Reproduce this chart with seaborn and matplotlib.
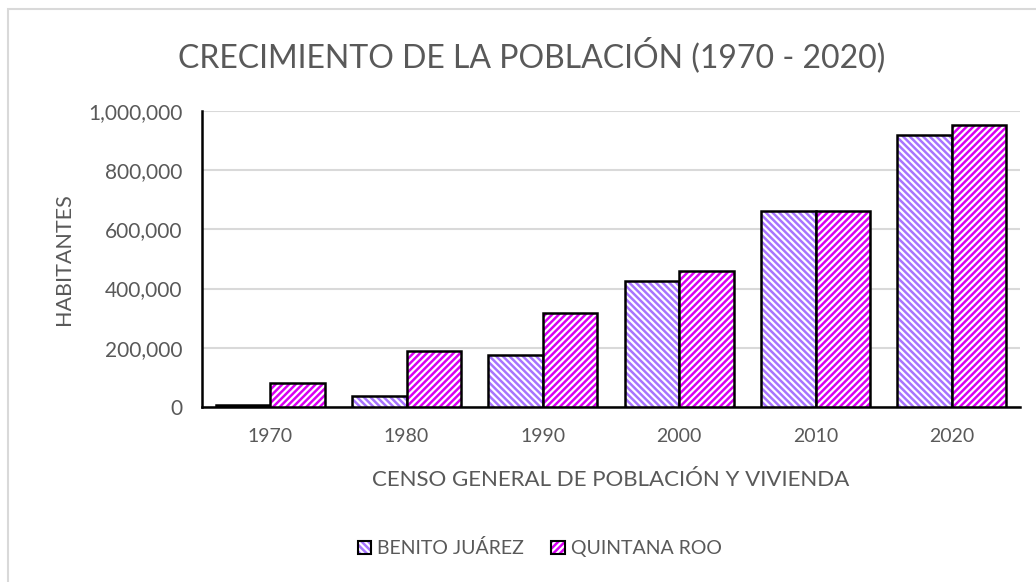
import pandas as pd
import matplotlib
matplotlib.use("Agg")
import matplotlib.pyplot as plt
import seaborn as sns
from matplotlib.patches import Patch, Rectangle
from matplotlib.colors import to_rgba
from matplotlib.ticker import FuncFormatter

# Data
years = ["1970", "1980", "1990", "2000", "2010", "2020"]
benito_juarez = [8000, 37000, 177000, 425000, 661000, 918000]
quintana_roo = [82000, 189000, 319000, 458000, 661000, 952000]
series_names = ["BENITO JUÁREZ", "QUINTANA ROO"]
hatch_colors = ["#A774FF", "#D900F2"]
hatch_styles = ["\\" * 5, "/" * 5]

df = pd.DataFrame({
    "Censo": years * 2,
    "Habitantes": benito_juarez + quintana_roo,
    "Serie": [series_names[0]] * len(years) + [series_names[1]] * len(years),
})

sns.set_style("white")
plt.rcParams["font.family"] = ["Lato", "DejaVu Sans"]
plt.rcParams["hatch.linewidth"] = 1.8
text_gray = "#595959"

fig = plt.figure(figsize=(10.36, 5.82), dpi=100)
ax = fig.add_axes([0.195, 0.3007, 0.7896, 0.5086])

sns.barplot(data=df, x="Censo", y="Habitantes", hue="Serie", hue_order=series_names,
            palette=["white", "white"], edgecolor="black", linewidth=1.8,
            legend=False, ax=ax, zorder=3)

# hatch each series with its own colour (hatch colour follows edgecolor otherwise)
n = len(years)
for i, p in enumerate(ax.patches):
    s = i // n
    p.set_hatch(hatch_styles[s])
    p._hatch_color = to_rgba(hatch_colors[s])

ax.set_ylim(0, 1000000)
ax.set_yticks(range(0, 1000001, 200000))
ax.yaxis.set_major_formatter(FuncFormatter(lambda v, pos: f"{int(v):,}"))
ax.grid(axis="y", color="#D9D9D9", linewidth=1.5, zorder=0)
ax.set_axisbelow(True)
for side in ["top", "right"]:
    ax.spines[side].set_visible(False)
for side in ["left", "bottom"]:
    ax.spines[side].set_color("black")
    ax.spines[side].set_linewidth(1.8)
ax.tick_params(axis="y", length=0, labelsize=15, colors=text_gray, pad=14)
ax.tick_params(axis="x", length=0, labelsize=14, colors=text_gray, pad=15)

ax.set_ylabel("HABITANTES", fontsize=15.5, color=text_gray)
ax.yaxis.set_label_coords(-0.156, 0.5)
ax.set_xlabel("CENSO GENERAL DE POBLACIÓN Y VIVIENDA", fontsize=16, color=text_gray, labelpad=18)

fig.text(0.513, 0.905, "CRECIMIENTO DE LA POBLACIÓN (1970 - 2020)", ha="center", va="center",
         fontsize=23, color=text_gray)

handles = []
for s in range(2):
    h = Patch(facecolor="white", edgecolor="black", linewidth=1.5, hatch=hatch_styles[s])
    h._hatch_color = to_rgba(hatch_colors[s])
    handles.append(h)
leg = fig.legend(handles, series_names, loc="center", bbox_to_anchor=(0.521, 0.058), ncol=2,
                 frameon=False, fontsize=14, handlelength=0.7, handleheight=0.7,
                 handletextpad=0.3, columnspacing=1.4, labelcolor=text_gray)
for lp, h in zip(leg.get_patches(), handles):
    lp._hatch_color = h._hatch_color

# light frame around the chart area
fig.patches.append(Rectangle((8 / 1036, -0.1), 1.2, 1.1 - 9 / 582, transform=fig.transFigure,
                             fill=False, edgecolor="#D9D9D9", linewidth=1.5))

fig.savefig("out.png", dpi=100)
